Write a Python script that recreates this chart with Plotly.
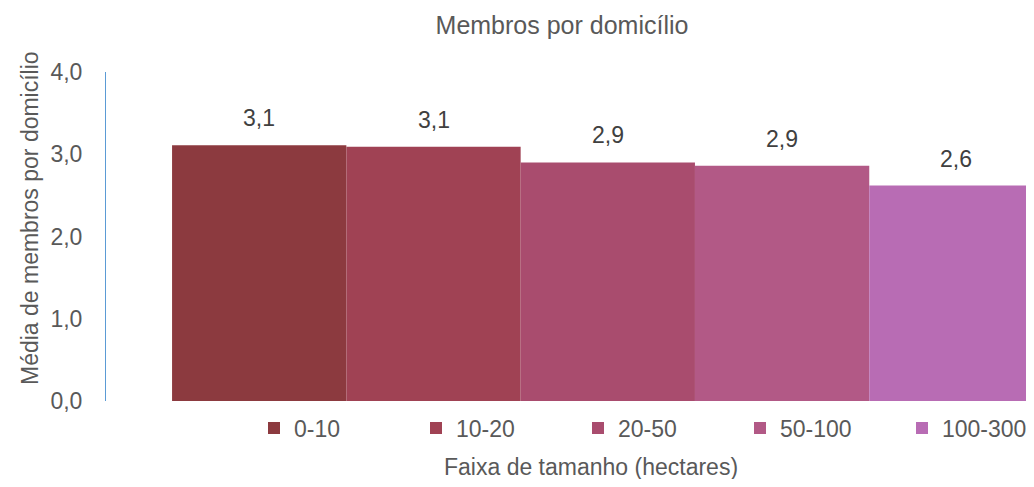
import plotly.graph_objects as go

# Dados do gráfico
faixas = ["0-10", "10-20", "20-50", "50-100", "100-300"]
membros = [3.11, 3.09, 2.90, 2.86, 2.62]
cores = ["#8C3A3F", "#A04254", "#A94C6E", "#B25986", "#B86CB4"]

y_ticks = [0, 1, 2, 3, 4]

FONTE = "Liberation Sans, Arial, sans-serif"
CINZA = "#595959"

# a página tem margem de 8px no body: a figura começa em (8, 8)
W, H = 1026, 471
PLOT_W = W - 98
PLOT_H = 329

fig = go.Figure()

for faixa, valor, cor in zip(faixas, membros, cores):
    fig.add_trace(go.Bar(
        x=[faixa],
        y=[valor],
        name=faixa,
        width=1,
        marker=dict(color=cor, line=dict(width=0)),
        hovertemplate='<b>%{x}</b><br>%{y:.1f}<extra></extra>'
    ))
    # rótulo de dados acima da barra
    fig.add_annotation(
        x=faixa, y=valor, xref='x', yref='y',
        text=f"{valor:.1f}".replace('.', ','),
        showarrow=False, yanchor='bottom', yshift=12,
        font=dict(size=23, color="#404040", family=FONTE)
    )

# títulos dos eixos como anotações
fig.add_annotation(
    text="Faixa de tamanho (hectares)", xref='paper', yref='paper',
    x=(591 - 106) / PLOT_W, y=-(467 - 401) / PLOT_H, xanchor='center', yanchor='middle',
    showarrow=False, font=dict(size=23, color=CINZA, family=FONTE)
)
fig.add_annotation(
    text="Média de membros por domicílio", xref='paper', yref='paper',
    x=(30 - 106) / PLOT_W, y=(401 - 218) / PLOT_H, xanchor='center', yanchor='middle',
    textangle=-90, showarrow=False, font=dict(size=23, color=CINZA, family=FONTE)
)

fig.update_layout(
    width=W,
    height=H,
    margin=dict(l=98, r=0, t=64, b=H - 64 - PLOT_H),
    paper_bgcolor='white',
    plot_bgcolor='white',
    separators=',.',
    font=dict(family=FONTE, color=CINZA, size=23),
    title=dict(
        text="Membros por domicílio",
        x=554 / W, y=(H - 17) / H, xref='container', yref='container',
        xanchor='center', yanchor='middle',
        font=dict(size=25, color=CINZA, family=FONTE)
    ),
    barmode='overlay',
    showlegend=True,
    legend=dict(
        orientation='h',
        xref='container', yref='container',
        x=246 / W, y=(H - 420) / H,
        xanchor='left', yanchor='middle',
        font=dict(size=23, color=CINZA, family=FONTE),
        entrywidth=117,
        itemwidth=30,
        traceorder='normal'
    ),
    xaxis=dict(
        type='category',
        categoryorder='array',
        categoryarray=faixas,
        range=[-0.879, -0.879 + PLOT_W / 174.3],
        showticklabels=False,
        showline=False,
        showgrid=False,
        zeroline=False,
        ticks='',
        automargin=False
    ),
    yaxis=dict(
        range=[0, 4],
        tickvals=y_ticks,
        ticktext=[f"{v:.1f}".replace('.', ',') for v in y_ticks],
        showgrid=False,
        zeroline=False,
        showline=True,
        linecolor='#5B9BD5',
        linewidth=1,
        ticks='',
        ticklabelstandoff=18,
        automargin=False,
        tickfont=dict(size=23, color=CINZA, family=FONTE)
    )
)

fig.write_html("out.html")
